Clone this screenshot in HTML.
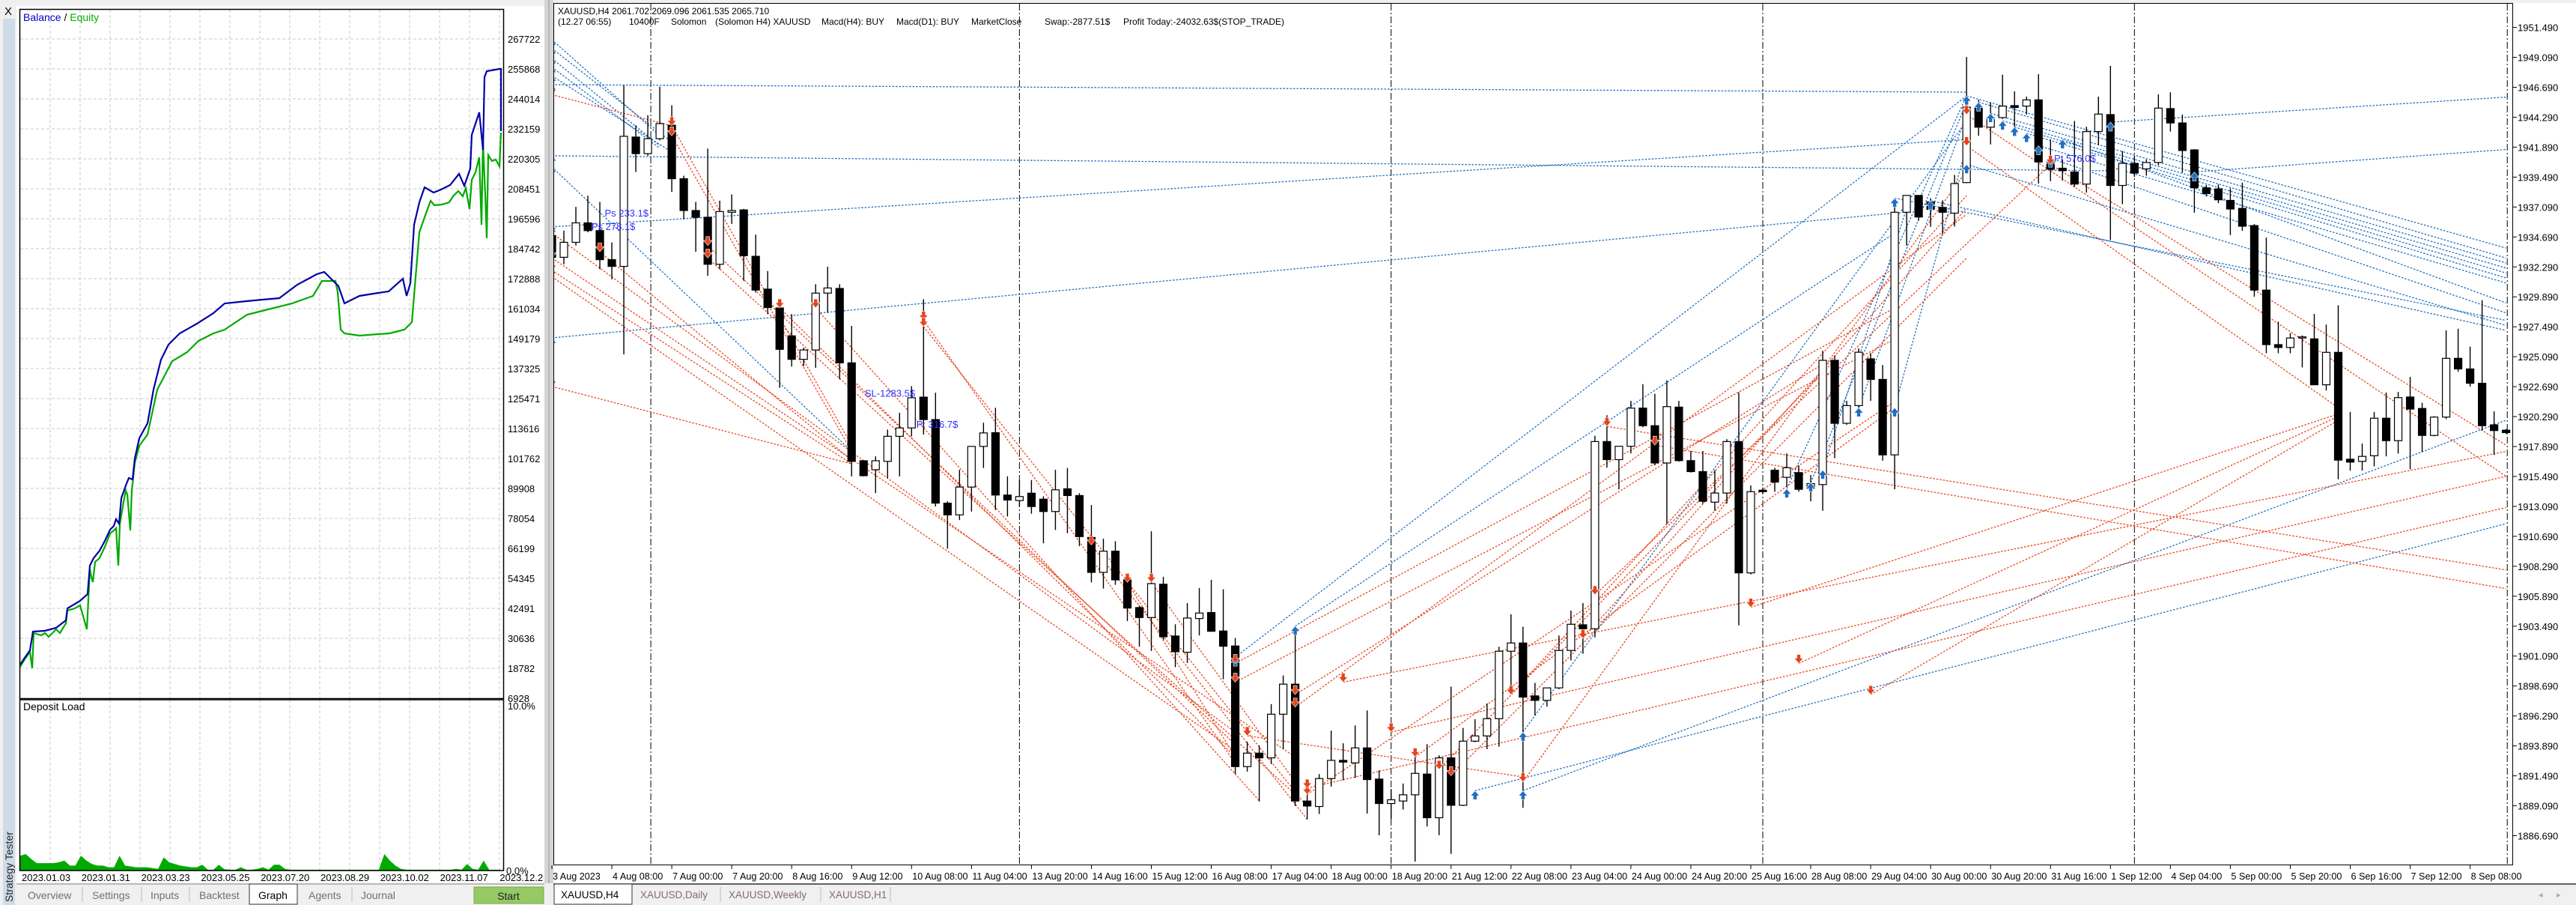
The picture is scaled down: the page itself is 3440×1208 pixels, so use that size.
<!DOCTYPE html>
<html><head><meta charset="utf-8"><title>Strategy Tester - XAUUSD H4</title>
<style>
html,body{margin:0;padding:0;background:#f0f0f0;}
svg{display:block;font-family:"Liberation Sans",sans-serif;}
</style></head>
<body>
<svg id="scene" width="3440" height="1208" viewBox="0 0 3440 1208" xmlns="http://www.w3.org/2000/svg">
  <defs>
    <clipPath id="chartClip"><rect x="740" y="5" width="2615" height="1149"/></clipPath>
    <clipPath id="balClip"><rect x="27" y="13" width="645" height="919"/></clipPath>
  </defs>
  <rect x="0" y="0" width="740" height="1208" fill="#f0f0f0"/>
  <rect x="22" y="8" width="705" height="1170" fill="#ffffff"/>
  <rect x="727" y="0" width="12" height="1180" fill="#d4d4d4"/>
  <line x1="733" y1="0" x2="733" y2="1180" stroke="#999"/>
  <rect x="739" y="4" width="2701" height="1176" fill="#ffffff"/>
  <rect x="739.5" y="4.5" width="2616" height="1150" fill="none" stroke="#000" stroke-width="1"/>
  <g id="leftG"></g>
  <g id="depG"></g>
  <g id="chartG"></g>
  <g id="axisG"></g>
  <text x="745" y="19" font-size="12" fill="#000">XAUUSD,H4  2061.702 2069.096 2061.535 2065.710</text>
  <g font-size="12" fill="#000">
    <text x="745" y="33">(12.27 06:55)</text>
    <text x="840" y="33">10400F</text>
    <text x="896" y="33">Solomon</text>
    <text x="955" y="33">(Solomon H4) XAUUSD</text>
    <text x="1097" y="33">Macd(H4): BUY</text>
    <text x="1197" y="33">Macd(D1): BUY</text>
    <text x="1297" y="33">MarketClose</text>
    <text x="1395" y="33">Swap:-2877.51$</text>
    <text x="1500" y="33">Profit Today:-24032.63$(STOP_TRADE)</text>
  </g>
  <text x="31" y="28" font-size="14"><tspan fill="#0000c8">Balance</tspan><tspan fill="#000"> / </tspan><tspan fill="#00b000">Equity</tspan></text>
  <text x="31" y="948" font-size="14" fill="#000">Deposit Load</text>
  <rect x="22" y="1179" width="3418" height="29" fill="#f0f0f0"/>
  <rect x="4" y="25" width="16" height="1183" fill="#cfdbe8"/>
  <text x="6" y="20" font-size="15" fill="#000">X</text>
  <text transform="translate(17,1204) rotate(-90)" font-size="14" fill="#222">Strategy Tester</text>
  <line x1="22" y1="1180" x2="727" y2="1180" stroke="#888"/>
  <line x1="739" y1="1180" x2="3440" y2="1180" stroke="#333" stroke-width="1.5"/>
  <g font-size="14" fill="#707070">
    <text x="37" y="1200">Overview</text>
    <line x1="110" y1="1184" x2="110" y2="1204" stroke="#bbb"/>
    <text x="123" y="1200">Settings</text>
    <line x1="189" y1="1184" x2="189" y2="1204" stroke="#bbb"/>
    <text x="201" y="1200">Inputs</text>
    <line x1="253" y1="1184" x2="253" y2="1204" stroke="#bbb"/>
    <text x="266" y="1200">Backtest</text>
    <rect x="333" y="1180" width="64" height="27" fill="#fff" stroke="#333"/>
    <text x="345" y="1200" fill="#000">Graph</text>
    <text x="412" y="1200">Agents</text>
    <line x1="470" y1="1184" x2="470" y2="1204" stroke="#bbb"/>
    <text x="482" y="1200">Journal</text>
  </g>
  <rect x="633" y="1184" width="93" height="22" fill="#95c964" stroke="#7aa84d"/>
  <text x="679" y="1201" font-size="14" fill="#222" text-anchor="middle">Start</text>
  <g font-size="13.5" fill="#8a6a6a">
    <rect x="740" y="1180" width="104" height="27" fill="#fff" stroke="#333"/>
    <text x="749" y="1199" fill="#000">XAUUSD,H4</text>
    <text x="855" y="1199">XAUUSD,Daily</text>
    <line x1="962" y1="1184" x2="962" y2="1204" stroke="#bbb"/>
    <text x="973" y="1199">XAUUSD,Weekly</text>
    <line x1="1096" y1="1184" x2="1096" y2="1204" stroke="#bbb"/>
    <text x="1107" y="1199">XAUUSD,H1</text>
    <line x1="1189" y1="1184" x2="1189" y2="1204" stroke="#bbb"/>
  </g>
  <text x="3390" y="1198" font-size="11" fill="#aaa">◂</text>
  <text x="3414" y="1198" font-size="11" fill="#aaa">▸</text>
</svg>
<script>
const opens=[1934.80,1933.06,1934.26,1935.82,1935.2,1932.87,1932.33,1942.7,1941.37,1942.57,
1943.65,1939.36,1936.81,1936.27,1932.5,1936.67,1936.86,1933.14,1930.51,1929.0,
1926.76,1924.88,1925.63,1930.19,1930.56,1924.6,1916.75,1916.03,1916.7,1918.71,
1919.38,1921.85,1920.05,1913.35,1912.41,1914.64,1917.9,1919.0,1914.0,1913.56,
1914.15,1913.67,1912.68,1914.5,1913.96,1910.6,1907.8,1909.5,1907.2,1904.98,
1904.18,1906.85,1902.7,1901.4,1904.1,1904.58,1903.1,1901.9,1892.23,1893.31,
1892.93,1896.43,1898.84,1889.47,1889.03,1891.27,1892.73,1892.53,1893.73,1891.23,
1889.27,1889.47,1889.97,1891.63,1888.13,1892.93,1889.13,1894.27,1894.69,1896.07,
1901.48,1902.14,1897.9,1897.54,1898.54,1901.54,1903.6,1903.28,1918.29,1916.84,
1917.91,1920.97,1919.56,1916.57,1921.05,1916.76,1915.88,1913.43,1914.16,1918.29,
1907.76,1914.39,1915.99,1915.42,1915.8,1914.54,1914.84,1924.8,1919.75,1921.17,
1924.92,1923.27,1917.22,1936.67,1938.02,1937.5,1937.06,1936.6,1939.05,1945.02,
1943.49,1944.26,1945.22,1945.18,1945.68,1940.7,1940.2,1939.9,1938.93,1943.14,
1944.5,1938.82,1940.59,1940.15,1940.66,1944.98,1943.83,1941.67,1938.63,1938.54,
1937.62,1936.98,1935.6,1930.43,1926.06,1925.83,1926.59,1926.52,1922.84,1925.44,
1916.87,1916.7,1917.15,1920.16,1918.36,1921.86,1920.94,1918.78,1920.25,1924.96,
1924.11,1922.96,1919.63,1919.2];
const highs=[1935.07,1935.2,1937.1,1938.0,1937.5,1934.26,1946.86,1943.65,1944.45,1946.73,
1945.25,1939.6,1937.5,1941.77,1937.6,1938.1,1936.94,1934.88,1931.96,1929.17,
1928.5,1925.82,1930.9,1932.3,1930.9,1927.56,1916.8,1917.1,1919.25,1920.59,
1922.73,1929.7,1922.2,1913.5,1916.03,1917.9,1919.8,1921.0,1915.5,1915.2,
1915.2,1913.9,1916.03,1916.17,1914.15,1913.2,1910.5,1910.3,1907.55,1905.14,
1911.1,1907.45,1903.64,1905.34,1906.55,1907.2,1906.45,1902.54,1894.23,1893.93,
1897.24,1899.54,1903.48,1890.03,1891.63,1895.11,1894.1,1895.53,1896.73,1891.93,
1890.43,1890.87,1893.57,1894.03,1893.13,1898.64,1895.33,1896.03,1897.3,1901.84,
1904.44,1903.44,1898.94,1898.54,1902.74,1904.74,1905.34,1918.75,1920.4,1917.91,
1921.55,1922.89,1922.12,1923.19,1921.55,1917.53,1917.53,1915.99,1918.48,1922.24,
1914.77,1914.6,1916.19,1917.34,1916.38,1915.6,1925.57,1925.19,1921.55,1925.76,
1925.38,1924.42,1937.63,1938.02,1938.02,1937.8,1937.63,1939.66,1949.12,1945.68,
1945.48,1947.7,1946.36,1945.94,1947.74,1942.5,1940.9,1943.99,1943.53,1945.94,
1948.4,1941.58,1941.2,1940.9,1946.13,1946.29,1944.5,1941.74,1938.86,1938.9,
1938.59,1939.05,1935.72,1934.64,1927.9,1926.98,1926.8,1928.52,1927.67,1929.21,
1920.66,1918.13,1920.66,1922.22,1922.27,1923.47,1921.4,1920.32,1927.21,1927.33,
1925.9,1929.62,1920.71,1919.3];
const lows=[1932.65,1932.5,1934.0,1935.07,1932.1,1931.3,1925.28,1939.9,1941.2,1942.44,
1938.3,1936.1,1933.5,1931.58,1932.1,1935.74,1931.18,1930.24,1928.5,1922.6,
1924.3,1924.34,1924.2,1928.6,1923.27,1915.5,1915.5,1914.15,1915.36,1915.5,
1918.7,1918.85,1913.08,1909.7,1912.0,1912.68,1916.17,1912.8,1912.28,1913.08,
1912.5,1910.13,1911.2,1910.94,1909.9,1907.0,1906.5,1906.8,1903.9,1901.84,
1901.5,1902.4,1900.2,1900.54,1902.74,1903.04,1899.24,1891.63,1891.83,1889.43,
1892.43,1893.63,1889.07,1888.0,1888.43,1890.63,1891.13,1891.33,1888.47,1886.72,
1888.03,1888.79,1884.62,1887.43,1886.73,1885.23,1889.07,1894.19,1893.63,1893.83,
1898.34,1888.93,1896.33,1897.04,1898.44,1900.74,1901.28,1902.59,1916.19,1914.46,
1917.34,1919.44,1916.38,1911.67,1916.68,1915.8,1913.31,1912.74,1913.31,1903.55,
1907.64,1914.1,1914.27,1914.65,1914.27,1913.5,1912.74,1916.95,1919.63,1920.97,
1921.55,1916.76,1914.46,1934.0,1935.99,1935.5,1934.95,1935.53,1939.0,1942.8,
1942.11,1944.15,1943.19,1944.5,1938.97,1939.16,1939.2,1938.7,1938.24,1942.04,
1934.45,1937.32,1939.5,1939.6,1940.43,1943.14,1939.85,1936.64,1937.94,1937.4,
1934.84,1935.19,1929.9,1925.37,1925.37,1925.37,1924.23,1922.84,1922.38,1915.26,
1915.95,1915.95,1916.3,1917.1,1917.33,1916.07,1917.44,1918.71,1920.09,1923.88,
1922.69,1919.17,1917.21,1918.9];
const closes=[1933.06,1934.26,1935.82,1935.2,1932.87,1932.33,1942.76,1941.37,1942.57,1943.78,
1939.36,1936.81,1936.27,1932.5,1936.73,1936.81,1933.19,1930.43,1929.03,1925.68,
1924.88,1925.63,1930.19,1930.6,1924.6,1916.7,1915.55,1916.75,1918.71,1919.38,
1921.8,1920.05,1913.35,1912.41,1914.64,1917.9,1918.98,1914.0,1913.6,1913.88,
1913.08,1912.68,1914.42,1913.96,1910.67,1907.8,1909.5,1907.2,1904.94,1904.18,
1906.9,1902.64,1901.44,1904.14,1904.54,1903.08,1901.88,1892.23,1893.31,1892.93,
1896.43,1898.84,1889.47,1889.07,1891.27,1892.73,1892.59,1893.73,1891.19,1889.27,
1889.57,1889.97,1891.69,1888.13,1892.93,1889.13,1894.27,1894.69,1896.07,1901.48,
1902.14,1897.8,1897.54,1898.54,1901.54,1903.64,1903.28,1918.29,1916.84,1917.91,
1920.97,1919.56,1916.57,1921.09,1916.76,1915.88,1913.5,1914.16,1918.29,1907.76,
1914.27,1914.27,1915.04,1916.19,1914.46,1914.92,1924.8,1919.75,1921.17,1925.45,
1923.27,1917.22,1936.67,1938.02,1936.29,1936.9,1936.67,1938.97,1945.1,1943.49,
1944.26,1945.18,1945.07,1945.68,1940.7,1940.12,1940.0,1938.93,1943.14,1944.54,
1938.82,1940.59,1939.81,1940.66,1945.02,1943.83,1941.62,1938.63,1938.17,1937.67,
1936.93,1935.55,1930.43,1926.06,1925.83,1926.59,1926.68,1922.84,1925.44,1916.8,
1916.64,1917.1,1920.16,1918.36,1921.81,1920.89,1918.78,1920.25,1924.96,1924.11,
1922.96,1919.56,1919.17,1919.01];
const timeLabels=["3 Aug 2023","4 Aug 08:00","7 Aug 00:00","7 Aug 20:00","8 Aug 16:00","9 Aug 12:00","10 Aug 08:00","11 Aug 04:00","13 Aug 20:00","14 Aug 16:00","15 Aug 12:00","16 Aug 08:00","17 Aug 04:00","18 Aug 00:00","18 Aug 20:00","21 Aug 12:00","22 Aug 08:00","23 Aug 04:00","24 Aug 00:00","24 Aug 20:00","25 Aug 16:00","28 Aug 08:00","29 Aug 04:00","30 Aug 00:00","30 Aug 20:00","31 Aug 16:00","1 Sep 12:00","4 Sep 04:00","5 Sep 00:00","5 Sep 20:00","6 Sep 16:00","7 Sep 12:00","8 Sep 08:00"];
const labelEvery=5;
const priceMin=1886.69, priceStep=2.4, priceTickCount=28;
const separatorBars=[8.25,39.0,70.0,101.0,132.0,163.1];
const tradeBar1=[0,0,0,0,0,0,0,130,137,0,0,57,62,81,103,105,106,109,112,77,81,118,119,120,121,122,123,124,126,118,115,112,125,0,
0,10,10,0,0,0,0,0,4,13,13,19,22,31,31,45,48,50,57,57,62,62,63,66,70,63,58,88,92,118,125,118,100,104,110,72,74,75,80,81,86,87];
const tradePrice1=[1946.9,1950.5,1949.8,1949.0,1948.3,1947.6,1941.2,1943.9,1939.9,1926.6,1935.5,1901.0,1903.5,1895.0,1914.5,1915.0,1916.0,1921.0,1921.0,1890.3,1890.3,1946.0,1945.5,1944.6,1944.0,1943.5,1943.0,1942.0,1942.5,1940.5,1937.6,1937.8,1941.0,1940.3,
1946.1,1943.6,1942.8,1935.0,1933.0,1931.5,1922.7,1932.0,1933.5,1934.0,1933.0,1929.0,1929.0,1928.0,1927.5,1910.0,1907.0,1907.0,1900.5,1899.0,1898.0,1897.0,1890.0,1899.0,1895.0,1890.5,1894.7,1919.5,1918.0,1944.5,1940.5,1942.0,1905.0,1900.5,1898.0,1893.0,1892.0,1891.5,1898.0,1891.0,1902.5,1906.0];
const tradeBar2=[118,9,10,9,9,10,130,163,163,112,118,118,112,118,118,118,113,118,118,163,163,163,163,163,163,163,163,163,163,163,163,163,163,25,
10,25,25,57,62,57,25,25,25,57,62,57,59,57,63,63,57,62,112,112,106,118,112,163,163,163,81,163,163,163,163,149,149,149,149,112,107,118,118,118,118,125];
const tradePrice2=[1946.3,1942.8,1942.3,1942.0,1941.8,1941.5,1940.0,1945.9,1941.7,1936.6,1942.5,1946.0,1935.0,1944.0,1946.0,1945.5,1937.0,1944.5,1942.0,1911.7,1920.0,1933.8,1933.0,1932.6,1932.2,1931.8,1931.4,1931.0,1929.4,1927.6,1927.2,1928.0,1928.6,1917.5,
1943.6,1918.0,1917.5,1895.0,1893.0,1893.5,1916.5,1916.5,1916.8,1894.0,1890.0,1893.0,1889.5,1892.5,1889.0,1888.0,1893.0,1891.0,1929.0,1926.5,1924.5,1936.5,1921.5,1917.5,1915.5,1913.0,1891.4,1908.0,1906.5,1915.5,1918.0,1921.0,1920.5,1920.3,1920.0,1921.0,1924.8,1933.0,1938.0,1940.0,1937.0,1940.5];
const tradeSide=["b","b","b","b","b","b","b","b","b","b","b","b","b","b","b","b","b","b","b","b","b","b","b","b","b","b","b","b","b","b","b","b","b","b",
"r","r","r","r","r","r","r","r","r","r","r","r","r","r","r","r","r","r","r","r","r","r","r","r","r","r","r","r","r","r","r","r","r","r","r","r","r","r","r","r","r","r"];
const tradeLabelText=["Ps 233.1$","Ps 278.1$","SL-1283.5$","P: 316.7$","Pt 576.0$"];
const tradeLabelBar=[4.4,3.3,26.1,30.4,125.3];
const tradeLabelPrice=[1936.33,1935.25,1921.9,1919.4,1940.7];

const balanceTicks=["267722","255868","244014","232159","220305","208451","196596","184742","172888","161034","149179","137325","125471","113616","101762","89908","78054","66199","54345","42491","30636","18782","6928"];
const balanceMin=6928, balanceStep=11854;
const dateLabels=["2023.01.03","2023.01.31","2023.03.23","2023.05.25","2023.07.20","2023.08.29","2023.10.02","2023.11.07","2023.12.2"];
const balanceDeal=[0,6,13,17,33,48,61,63,80,90,93,98,106,113,120,125,128,132,135,141,145,150,153,159,170,178,188,198,213,236,258,273,302,323,346,370,385,396,406,421,425,433,453,478,492,511,516,521,526,533,540,552,562,574,586,593,601,603,613,618,620,623,640,642,642];
const balanceVals=[20264,22931,25894,33303,33600,34785,37748,42490,45454,48121,59382,62346,65309,69162,73607,75089,77756,75978,86053,91092,94055,93463,101760,109762,115689,129024,140878,146805,151250,155103,159251,163105,163994,164586,165179,170513,172884,174662,175552,171106,169921,163105,166069,167254,167847,172884,166069,171106,194221,203111,209038,206963,208149,209927,214372,209631,216447,229782,238673,223856,252608,254979,255868,255868,231266];
const equityDeal=[0,6,13,16,18,28,33,38,48,53,61,63,73,80,85,89,91,93,95,97,100,106,113,120,125,128,131,133,138,141,143,147,149,153,159,170,183,203,223,238,258,273,303,323,363,391,403,421,424,428,433,453,478,493,513,523,533,540,548,553,563,573,578,585,591,595,600,603,608,613,616,618,621,623,625,630,635,640,642];
const equityVals=[19375,22339,25302,18782,32710,31821,32710,31228,34192,32710,36563,41601,42490,43675,38341,34192,46046,57900,54937,52862,60864,62346,66791,72125,73311,74200,59382,75682,84572,89017,87535,73311,89017,99982,106798,111243,129024,140286,143842,148288,151251,152732,158659,160141,163105,166068,171995,171995,167550,152732,151251,150362,150955,151251,152732,155696,191258,197185,203704,201926,202223,203112,205483,207557,205483,208742,200445,212004,214967,220894,194221,226822,206075,188887,221783,219412,220005,217338,230673];
const dealCount=645;
const depositLoad=[0.9,1.0,0.7,0.45,0.45,0.45,0.45,0.5,0.6,0.3,0.3,0.9,0.6,0.4,0.3,0.3,0.2,0.2,0.9,0.3,0.25,0.2,0.2,0.2,0.15,0.1,0.8,0.5,0.4,0.3,0.25,0.2,0.2,0.35,0.05,0.05,0.35,0.08,0.05,0.05,0.2,0.05,0.05,0.1,0.2,0.05,0.35,0.35,0.1,0.05,0.05,0.05,0.05,0.05,0.05,0.05,0.05,0.05,0.05,0.05,0.05,0.05,0.05,0.05,0.05,0.05,1.0,0.6,0.3,0.1,0.05,0.05,0.05,0.05,0.05,0.05,0.05,0.05,0.05,0.1,0.05,0.4,0.1,0.05,0.6,0.05,0.05,0.05];

const NS="http://www.w3.org/2000/svg";
function mk(tag,attrs,parent){const e=document.createElementNS(NS,tag);for(const k in attrs)e.setAttribute(k,attrs[k]);parent.appendChild(e);return e;}

const xBar=k=>737+k*16.01;
const yPrice=p=>1115.5-(p-priceMin)*16.65;
const xDeal=d=>27+d*(645/dealCount);
const yBal=v=>932-(v-balanceMin)*40/balanceStep;
const xLoad=i=>27+i*(641/(depositLoad.length-1));
const yLoad=v=>1162-v*22;

const leftG=document.getElementById('leftG');
const gridXs=[];for(let x=67;x<=670;x+=40)gridXs.push(x);
balanceTicks.forEach((t,i)=>{
  const v=balanceMin+(balanceTicks.length-1-i)*balanceStep;
  const y=yBal(v);
  if(i<balanceTicks.length-1){
    const gl=mk('line',{x1:27,y1:y,x2:672,y2:y,stroke:'#c8c8c8','stroke-dasharray':'4 3'},leftG);
    
    
  }
  const tx=mk('text',{x:678,y:y+5,'font-size':13,fill:'#000'},leftG);
  tx.textContent=t;
  
  
});
gridXs.forEach(x=>{
  const a=mk('line',{x1:x,y1:13,x2:x,y2:932,stroke:'#c8c8c8','stroke-dasharray':'4 3'},leftG);
  
  
  const b=mk('line',{x1:x,y1:934,x2:x,y2:1162,stroke:'#c8c8c8','stroke-dasharray':'4 3'},leftG);
  
  
});
const eqLine=mk('polyline',{points:equityDeal.map((d,i)=>xDeal(d)+','+yBal(equityVals[i])).join(' '),fill:'none',stroke:'#00aa00','stroke-width':2.2,'clip-path':'url(#balClip)'},leftG);


const balLine=mk('polyline',{points:balanceDeal.map((d,i)=>xDeal(d)+','+yBal(balanceVals[i])).join(' '),fill:'none',stroke:'#0000a8','stroke-width':2.2,'clip-path':'url(#balClip)'},leftG);


const bf=mk('rect',{x:26.5,y:12.5,width:646,height:920,fill:'none',stroke:'#000','stroke-width':1.5},leftG);



const depG=document.getElementById('depG');
let dpts='27,1162 ';
depositLoad.forEach((v,i)=>{dpts+=xLoad(i)+','+yLoad(v)+' ';});
dpts+=xLoad(depositLoad.length-1)+',1162';
const da=mk('polygon',{points:dpts,fill:'#00aa00'},depG);


const df=mk('rect',{x:26.5,y:934,width:646,height:228,fill:'none',stroke:'#000','stroke-width':1.5},depG);


const p10=mk('text',{x:678,y:947,'font-size':13},depG);p10.textContent='10.0%';


const p0=mk('text',{x:676,y:1167,'font-size':13},depG);p0.textContent='0.0%';


dateLabels.forEach((t,i)=>{
  const tx=mk('text',{x:29+i*79.8,y:1176,'font-size':13},depG);tx.textContent=t;
  
  
});

const chartG=document.getElementById('chartG');
const clipG=mk('g',{'clip-path':'url(#chartClip)'},chartG);


separatorBars.forEach(k=>{
  const l=mk('line',{x1:xBar(k),y1:5,x2:xBar(k),y2:1155,stroke:'#000','stroke-width':1,'stroke-dasharray':'9 3 2 3'},clipG);
  
  
});
tradeBar1.forEach((k1,i)=>{
  const col=tradeSide[i]==='b'?'#1f6fc0':'#e8431c';
  const l=mk('line',{x1:xBar(k1),y1:yPrice(tradePrice1[i]),x2:xBar(tradeBar2[i]),y2:yPrice(tradePrice2[i]),stroke:col,'stroke-width':1.3,'stroke-dasharray':'2.5 2'},clipG);
  
  
});
opens.forEach((o,k)=>{
  const x=xBar(k),c=closes[k];
  const w=mk('line',{x1:x,y1:yPrice(highs[k]),x2:x,y2:yPrice(lows[k]),stroke:'#000','stroke-width':1.4},clipG);
  
  
  const top=yPrice(Math.max(o,c)),bot=yPrice(Math.min(o,c));
  const r=mk('rect',{x:x-5,y:top,width:10,height:Math.max(bot-top,1.5),fill:c<o?'#000':'#fff',stroke:'#000','stroke-width':1.2},clipG);
  
  
});
function arrow(x,y,up,col){
  const d=up?`M${x},${y} l-6,7 h3.5 v5 h5 v-5 h3.5 z`:`M${x},${y} l-6,-7 h3.5 v-5 h5 v5 h3.5 z`;
  return mk('path',{d:d,fill:col,stroke:'#fff','stroke-width':0.6},clipG);
}
tradeBar1.forEach((k1,i)=>{
  const isB=tradeSide[i]==='b';
  const a=arrow(xBar(k1),yPrice(tradePrice1[i]),isB,isB?'#1f6fc0':'#e8431c');
  
  
});
tradeLabelText.forEach((t,i)=>{
  const tx=mk('text',{x:xBar(tradeLabelBar[i]),y:yPrice(tradeLabelPrice[i]),'font-size':13,fill:'#3030ff'},clipG);
  tx.textContent=t;
  
  
});

const axisG=document.getElementById('axisG');
for(let n=0;n<priceTickCount;n++){
  const p=priceMin+n*priceStep,y=yPrice(p);
  const tk=mk('line',{x1:3356,y1:y,x2:3361,y2:y,stroke:'#000'},axisG);
  
  
  const tx=mk('text',{x:3362,y:y+5,'font-size':13,fill:'#000'},axisG);
  tx.textContent=p.toFixed(3);
  
  
}
timeLabels.forEach((t,i)=>{
  const x=xBar(i*labelEvery);
  const tk=mk('line',{x1:x,y1:1155,x2:x,y2:1160,stroke:'#000'},axisG);
  
  
  const tx=mk('text',{x:x+1,y:1174,'font-size':12.6,fill:'#000'},axisG);
  tx.textContent=t;
  
  
});
</script>
</body></html>
